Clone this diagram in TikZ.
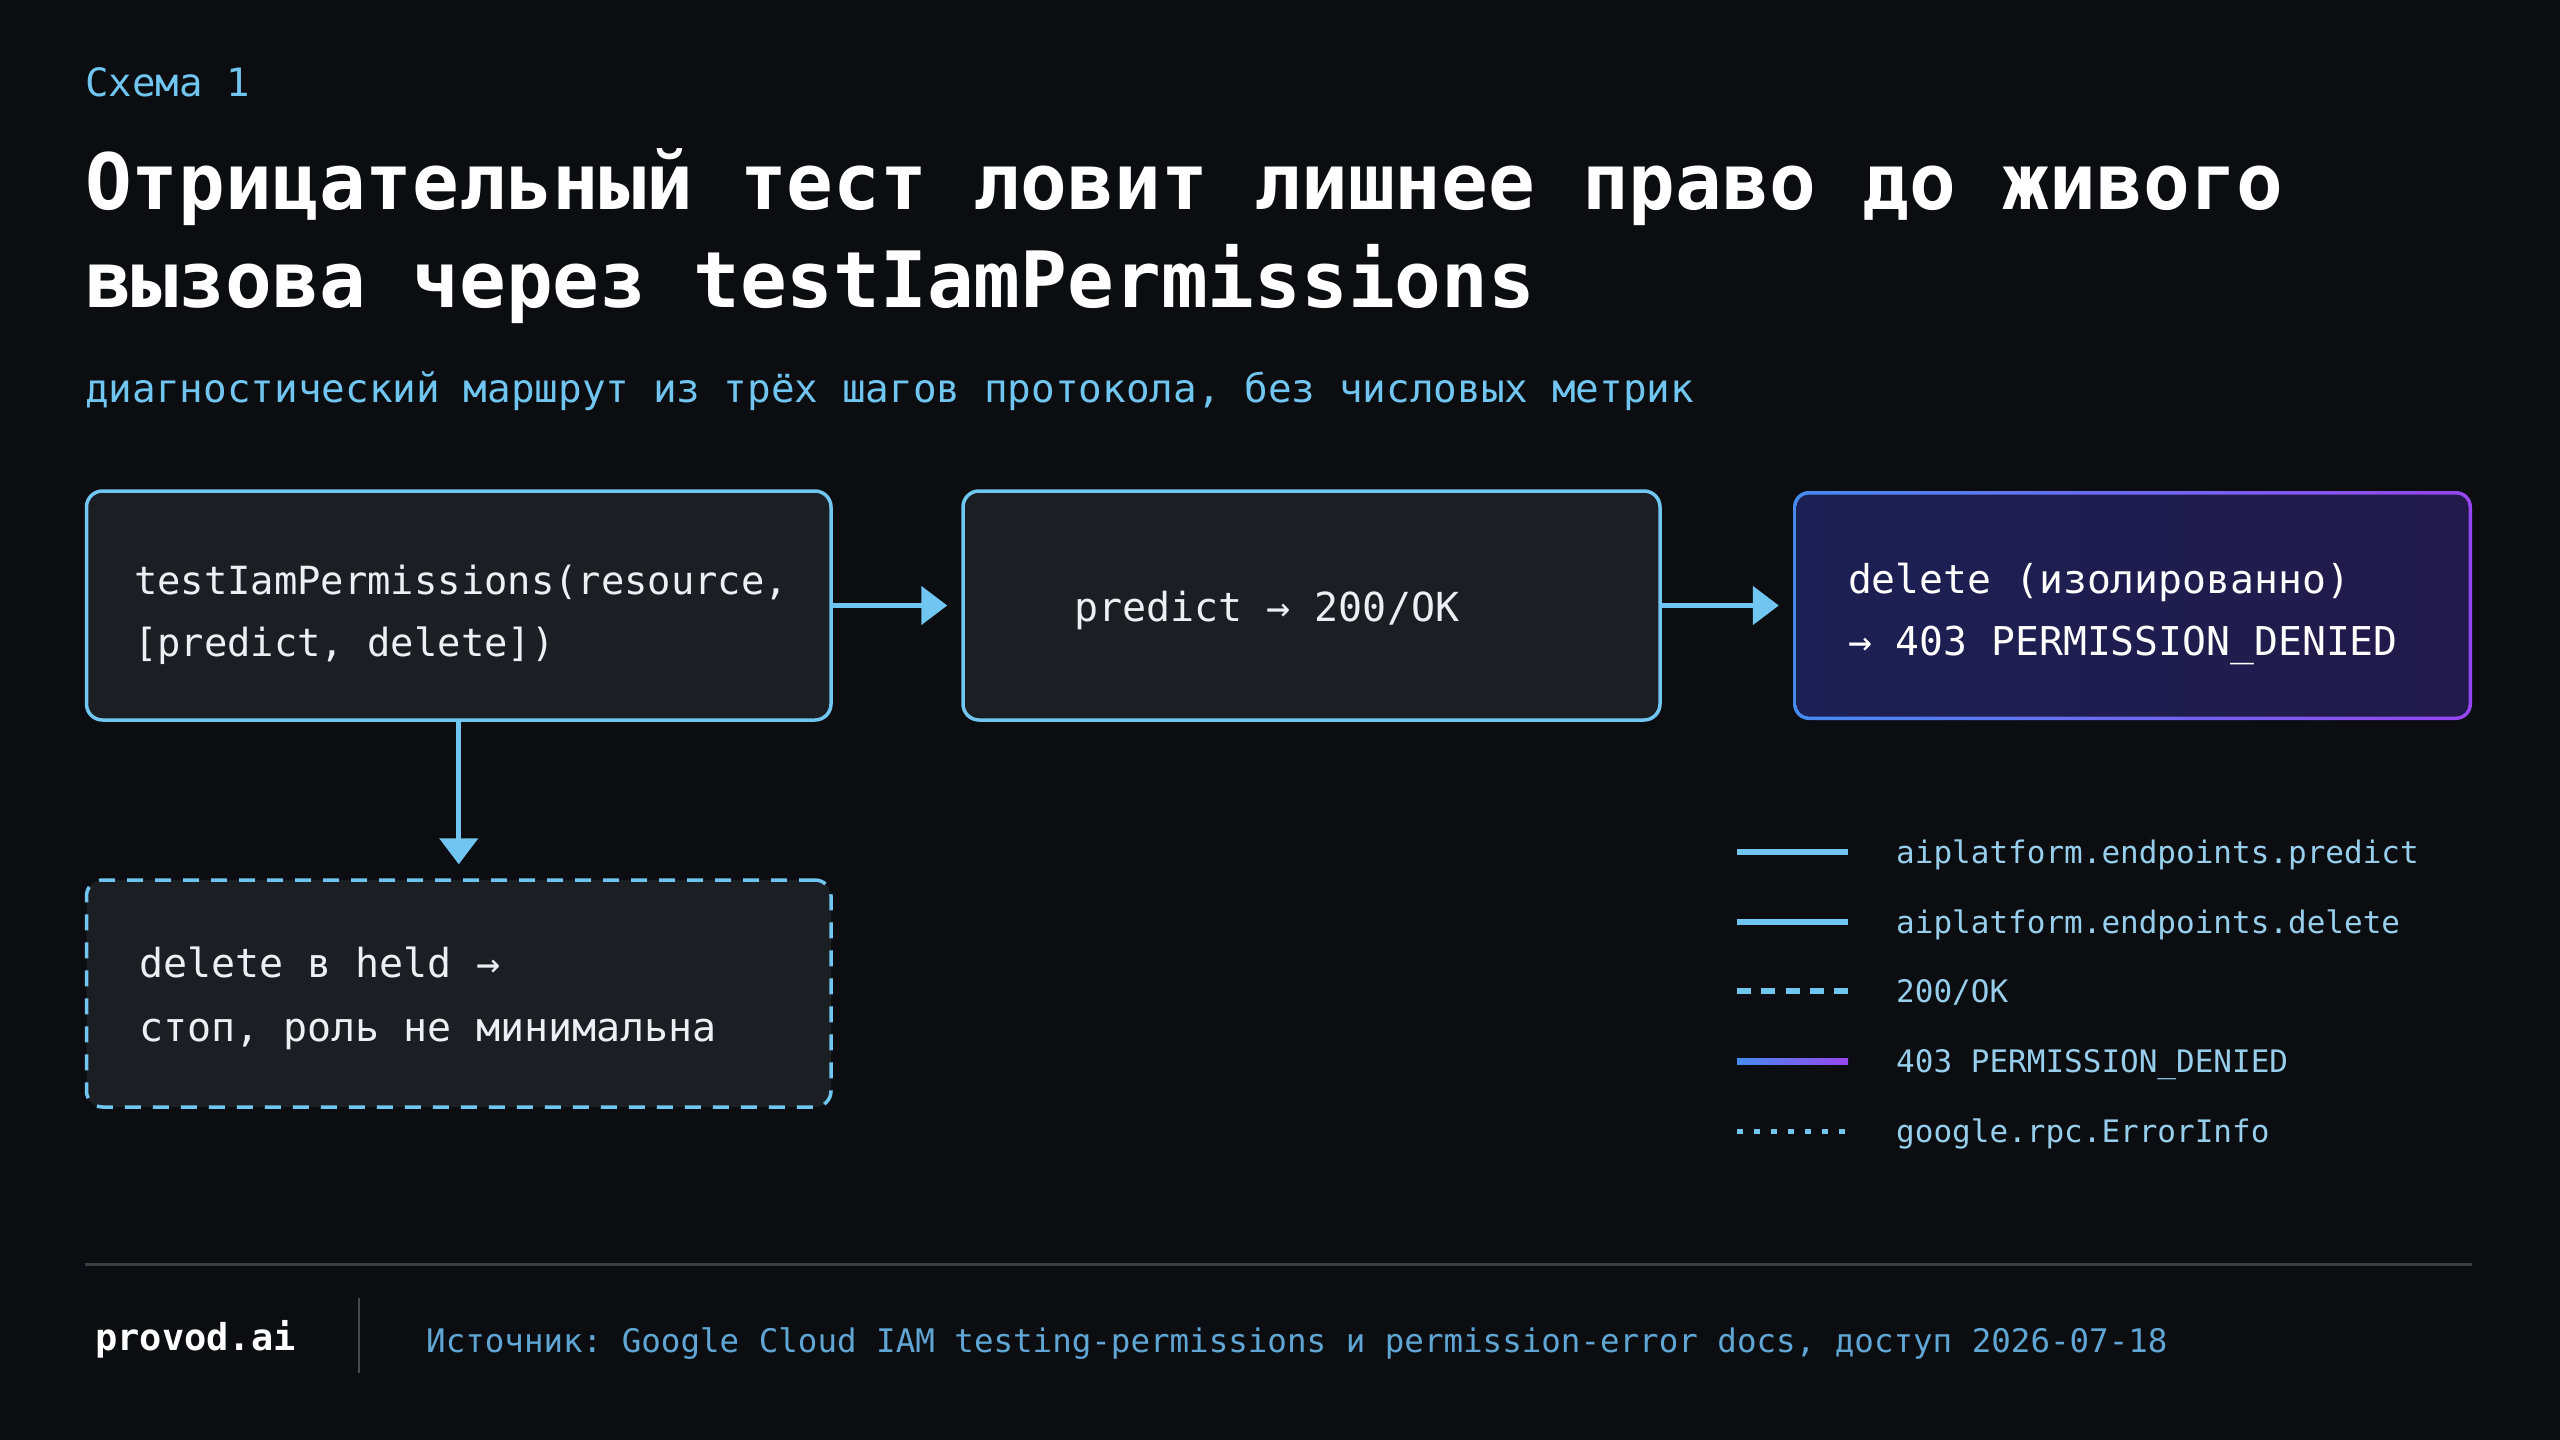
\documentclass[tikz,border=0pt]{standalone}
\usepackage{fontspec}
\newfontfamily\mono[WordSpace={1,0,0}]{DejaVu Sans Mono}
\usetikzlibrary{arrows.meta}
\definecolor{bg}{RGB}{11,13,17}
\definecolor{lblue}{RGB}{112,198,240}
\definecolor{legtext}{RGB}{150,206,236}
\definecolor{srctext}{RGB}{96,166,212}
\definecolor{boxfill}{RGB}{27,30,35}
\definecolor{txt}{RGB}{236,240,243}
\definecolor{cblue}{RGB}{70,140,240}
\definecolor{cpurple}{RGB}{150,70,240}
\definecolor{navyL}{RGB}{28,32,84}
\definecolor{navyR}{RGB}{34,26,74}
\definecolor{rule}{RGB}{58,61,67}
\definecolor{sep}{RGB}{70,73,79}
\begin{document}
\frenchspacing
\begin{tikzpicture}[x=1pt,y=-1pt,
  lbl/.style={anchor=base west,inner sep=0pt},
  fixsp/.style={execute at begin node={\spaceskip=0pt\xspaceskip=0pt\rule{0pt}{#1}}},
  box/.style={draw=lblue,line width=3.5pt,fill=boxfill,rounded corners=16pt,
    inner xsep=0pt,inner ysep=0pt,align=left,text=txt,
    font=\mono\fontsize{38.8}{62}\selectfont},
  arr/.style={draw=lblue,line width=5pt,-{Triangle[length=26pt,width=38pt]},shorten >=14pt},
  legline/.style={line width=6pt,lblue}
]
\useasboundingbox (0,0) rectangle (2560,1440);
\fill[bg] (0,0) rectangle (2560,1440);

% header
\node[lbl,text=lblue,font=\mono\fontsize{39}{48}\selectfont] (kicker) at (85,96) {Схема 1};
\node[lbl,text=white,font=\mono\bfseries\fontsize{77.7}{98}\selectfont] (title1) at (85,209) {Отрицательный тест ловит лишнее право до живого};
\node[lbl,text=white,font=\mono\bfseries\fontsize{77.7}{98}\selectfont] (title2) at (85,307) {вызова через testIamPermissions};
\node[lbl,text=lblue,font=\mono\fontsize{39.3}{48}\selectfont] (sub) at (85,402) {диагностический маршрут из трёх шагов протокола, без числовых метрик};

% boxes
\node[box,fixsp=49pt,minimum width=744.5pt,minimum height=229pt,text width=649.5pt] (A) at (458.75,605.5)
  {testIamPermissions(resource,\\{}[predict, delete])};
\node[box,fixsp=40pt,minimum width=697pt,minimum height=229pt,text width=475pt,
  font=\mono\fontsize{40}{62}\selectfont] (B) at (1311.5,605.5)
  {predict → 200/OK};
\node[draw=none,fixsp=48pt,rounded corners=16pt,left color=cblue,right color=cpurple,
  minimum width=679pt,minimum height=229pt,text width=569pt,
  inner xsep=0pt,inner ysep=0pt,align=left,text=white,
  font=\mono\fontsize{39.7}{62}\selectfont,
  path picture={\shade[left color=navyL,right color=navyR,rounded corners=12.5pt]
    ([shift={(3.5pt,3.5pt)}]path picture bounding box.south west) rectangle
    ([shift={(-3.5pt,-3.5pt)}]path picture bounding box.north east);}] (C) at (2132.5,605.5)
  {delete (изолированно)\\→ 403 PERMISSION\_DENIED};
\node[box,fixsp=40pt,dashed,dash pattern=on 16pt off 12pt,minimum width=744.5pt,minimum height=227pt,
  text width=639.5pt,font=\mono\fontsize{40}{64}\selectfont] (D) at (458.75,993.5)
  {delete в held →\\стоп, роль не минимальна};

% connectors
\draw[arr] (A.east) -- (B.west);
\draw[arr] (B.east) -- (C.west);
\draw[arr] (A.south) -- (D.north);

% legend
\begin{scope}[every node/.style={lbl,text=legtext,font=\mono\fontsize{31}{40}\selectfont}]
\node (L1) at (1896,863) {aiplatform.endpoints.predict};
\node (L2) at (1896,933) {aiplatform.endpoints.delete};
\node (L3) at (1896,1002) {200/OK};
\node (L4) at (1896,1072) {403 PERMISSION\_DENIED};
\node (L5) at (1896,1142) {google.rpc.ErrorInfo};
\end{scope}
\draw[legline] (1737,852) -- (1848,852);
\draw[legline] (1737,922) -- (1848,922);
\draw[legline,dash pattern=on 14pt off 10.25pt] (1737,991) -- (1848,991);
\shade[left color=cblue,right color=cpurple] (1737,1058) rectangle (1848,1064);
\draw[legline,line width=5pt,dash pattern=on 6pt off 11pt] (1737,1131) -- (1848,1131);

% footer
\draw[rule,line width=3pt] (85,1264) -- (2472,1264);
\draw[sep,line width=2pt] (359,1298) -- (359,1373);
\node[lbl,text=white,font=\mono\bfseries\fontsize{37}{44}\selectfont] (brand) at (95,1350) {provod.ai};
\node[lbl,text=srctext,font=\mono\fontsize{32.5}{40}\selectfont] (src) at (426,1352)
  {Источник: Google Cloud IAM testing-permissions и permission-error docs, доступ 2026-07-18};
\end{tikzpicture}
\end{document}
